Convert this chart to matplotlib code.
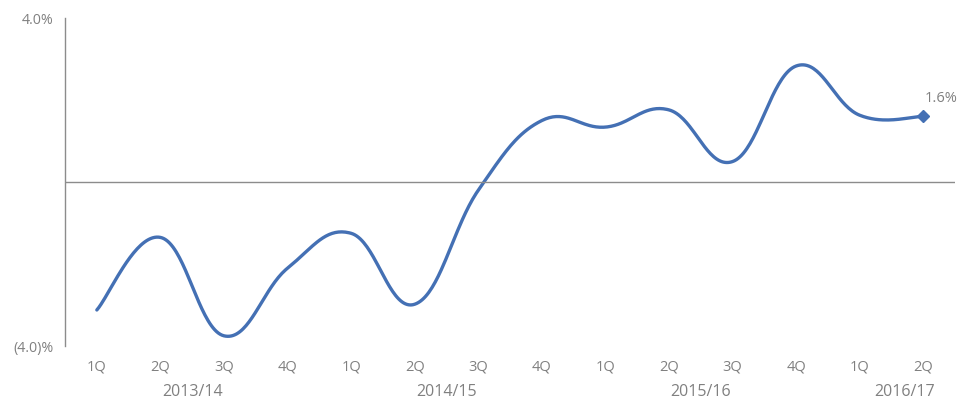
import numpy as np
import matplotlib
matplotlib.use("Agg")
import matplotlib.pyplot as plt

plt.rcParams['font.family'] = ['Open Sans', 'DejaVu Sans']

quarters = ['1Q', '2Q', '3Q', '4Q', '1Q', '2Q', '3Q', '4Q',
            '1Q', '2Q', '3Q', '4Q', '1Q', '2Q']
years = ['2013/14', '2014/15', '2015/16', '2016/17']
year_pos = [1.5, 5.5, 9.5, 12.7]
growth = [-3.12, -1.35, -3.75, -2.1, -1.25, -2.98, -0.2, 1.5,
          1.34, 1.76, 0.5, 2.83, 1.63, 1.6]

LINE = '#4470b4'
GREY = '#808080'


def smooth(x, y, n=40, k=5.0):
    # cardinal spline smoothing, like a spreadsheet "smoothed line"
    x = np.asarray(x, float)
    y = np.asarray(y, float)
    px = np.concatenate([[x[0]], x, [x[-1]]])
    py = np.concatenate([[y[0]], y, [y[-1]]])
    xs, ys = [], []
    t = np.linspace(0, 1, n)
    for i in range(1, len(px) - 2):
        p0, p1, p2, p3 = [np.array([px[j], py[j]]) for j in range(i - 1, i + 3)]
        c1 = p1 + (p2 - p0) / k
        c2 = p2 - (p3 - p1) / k
        b = ((1 - t) ** 3)[:, None] * p1 + (3 * (1 - t) ** 2 * t)[:, None] * c1 \
            + (3 * (1 - t) * t ** 2)[:, None] * c2 + (t ** 3)[:, None] * p2
        xs.append(b[:, 0])
        ys.append(b[:, 1])
    return np.concatenate(xs), np.concatenate(ys)


fig = plt.figure(figsize=(9.58, 4.01), dpi=100)
ax = fig.add_axes([0.0679, 0.137, 0.929, 0.818])

x = np.arange(len(growth))
sx, sy = smooth(x, growth)
ax.plot(sx, sy, color=LINE, lw=2.4, solid_capstyle='round')
ax.plot(x[-1], growth[-1], marker='D', ms=6, color=LINE)
ax.text(x[-1] + 0.03, growth[-1] + 0.25, f'{growth[-1]:.1f}%', color=GREY,
        fontsize=10.5, ha='left', va='bottom')

ax.axhline(0, color='#8c8c8c', lw=1)
ax.set_xlim(-0.5, 13.5)
ax.set_ylim(-4, 4)

for s in ['top', 'right', 'bottom']:
    ax.spines[s].set_visible(False)
ax.spines['left'].set_color('#8c8c8c')
ax.spines['left'].set_linewidth(1)

ax.set_yticks([-4, 4])
ax.set_yticklabels(['(4.0)%', '4.0%'])
ax.tick_params(axis='y', length=0, pad=8.5, labelsize=10.3, labelcolor=GREY)

ax.set_xticks(x)
ax.set_xticklabels(quarters)
ax.tick_params(axis='x', length=0, pad=10, labelsize=10.5, labelcolor=GREY)

for yr, xp in zip(years, year_pos):
    ax.text(xp, -4.93, yr, color=GREY, fontsize=11.5, ha='center', va='top')

fig.savefig('out.png', dpi=100)
